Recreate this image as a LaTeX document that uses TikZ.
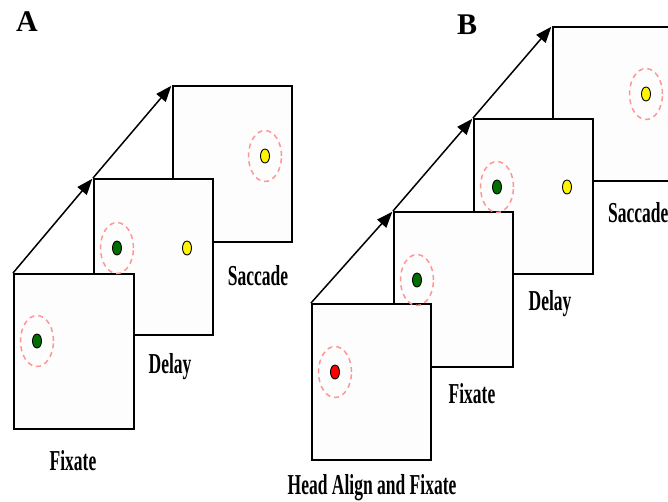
\documentclass[tikz,border=0pt]{standalone}
\usepackage{graphicx}
\usepackage{fontspec}
\setmainfont{Liberation Serif}
\usetikzlibrary{shapes.geometric,arrows.meta}
\definecolor{ringpink}{RGB}{255,150,150}
\definecolor{dotgreen}{RGB}{0,110,0}
\definecolor{dotyellow}{RGB}{255,245,0}
\definecolor{dotred}{RGB}{255,0,0}
\definecolor{framefill}{RGB}{253,253,253}
\newcommand{\lbltext}[1]{\scalebox{1}[1.65]{\bfseries\fontsize{17.5}{18}\selectfont #1}}
\tikzset{
  frame/.style={draw=black, line width=1.6pt, fill=framefill, anchor=north west,
    rectangle, inner sep=0pt, minimum height=156pt},
  ring/.style={ellipse, draw=ringpink, line width=1.5pt, dash pattern=on 5pt off 4pt,
    minimum width=33pt, minimum height=51pt, inner sep=0pt},
  dot/.style={ellipse, draw=black, line width=0.9pt, fill=#1,
    minimum width=9pt, minimum height=14pt, inner sep=0pt},
  arr/.style={line width=1.5pt, -{Triangle[length=16pt,width=12pt]}, shorten >=1pt},
  lbl/.style={inner sep=0pt, anchor=base},
  panel/.style={inner sep=0pt, font=\bfseries\fontsize{30}{30}\selectfont}
}
\begin{document}
\begin{tikzpicture}[x=1pt,y=-1pt]
\useasboundingbox[fill=white] (0,0) rectangle (668,501);
% ---------- Panel A ----------
\node[panel] (pA) at (27,22) {A};
\node[frame, minimum width=119pt] (a3) at (172,85) {};
\node[frame, minimum width=119pt] (a2) at (93,178) {};
\node[frame, minimum width=120pt, minimum height=155pt] (a1) at (13,273) {};
\draw[arr] (a1.north west) -- (a2.north west);
\draw[arr] (a2.north west) -- (a3.north west);
% dots A
\node[ring] (ra1) at (37,341) {};
\node[dot=dotgreen] (da1) at (ra1) {};
\node[ring] (ra2) at (117,248) {};
\node[dot=dotgreen] (da2) at (ra2) {};
\node[dot=dotyellow] (da2y) at (187,248) {};
\node[ring] (ra3) at (265,156) {};
\node[dot=dotyellow] (da3) at (ra3) {};
% labels A
\node[lbl] (la3) at (258,285) {\lbltext{Saccade}};
\node[lbl] (la2) at (170,373) {\lbltext{Delay}};
\node[lbl] (la1) at (73,470) {\lbltext{Fixate}};
% ---------- Panel B ----------
\node[panel] (pB) at (467,25) {B};
\node[frame, minimum width=125pt, minimum height=154pt] (b4) at (552,26) {};
\node[frame, minimum width=119pt, minimum height=155pt] (b3) at (473,118) {};
\node[frame, minimum width=119pt, minimum height=155pt] (b2) at (393,211) {};
\node[frame, minimum width=119pt, minimum height=156pt] (b1) at (311,303) {};
\draw[arr] (b1.north west) -- (b2.north west);
\draw[arr] (b2.north west) -- (b3.north west);
\draw[arr] (b3.north west) -- (b4.north west);
% dots B
\node[ring] (rb1) at (335,372) {};
\node[dot=dotred] (db1) at (rb1) {};
\node[ring] (rb2) at (417,280) {};
\node[dot=dotgreen] (db2) at (rb2) {};
\node[ring] (rb3) at (497,187) {};
\node[dot=dotgreen] (db3) at (rb3) {};
\node[dot=dotyellow] (db3y) at (567,187) {};
\node[ring] (rb4) at (646,94) {};
\node[dot=dotyellow] (db4) at (rb4) {};
% labels B
\node[lbl, anchor=base west] (lb4) at (608,222) {\lbltext{Saccade}};
\node[lbl] (lb3) at (550,310) {\lbltext{Delay}};
\node[lbl] (lb2) at (472,403) {\lbltext{Fixate}};
\node[lbl] (lb1) at (372,494) {\lbltext{Head Align and Fixate}};
\end{tikzpicture}
\end{document}
